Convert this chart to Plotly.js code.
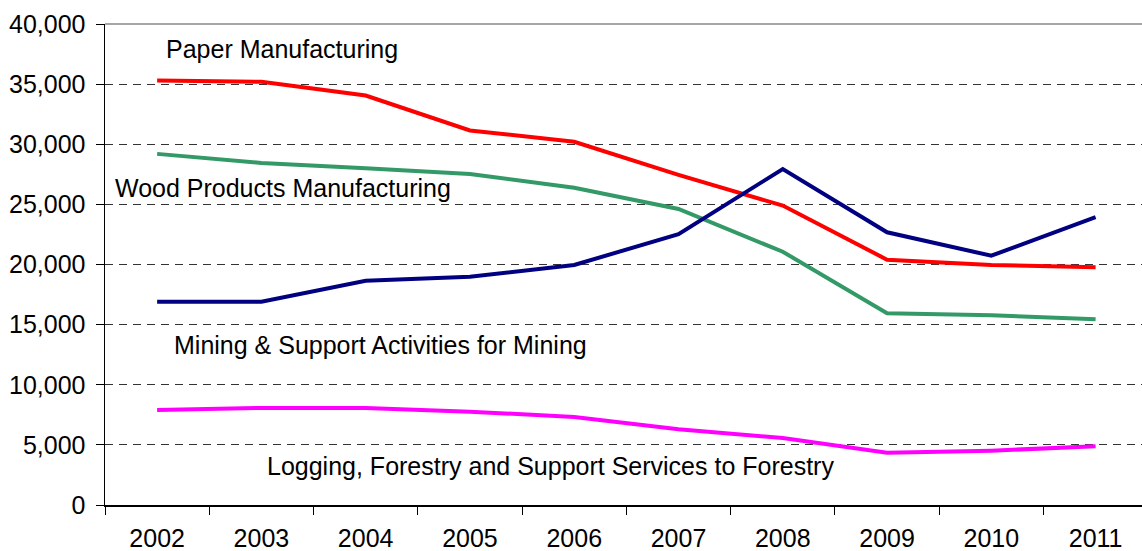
<!DOCTYPE html>
<html>
<head>
<meta charset="utf-8">
<script src="https://cdn.plot.ly/plotly-3.0.1.min.js"></script>
<style>html,body{margin:0;padding:0;background:#fff;}#chart{width:1142px;height:551px;}</style>
</head>
<body>
<div id="chart"></div>
<script>
const years = ['2002','2003','2004','2005','2006','2007','2008','2009','2010','2011'];
const paper = [35300, 35200, 34050, 31150, 30200, 27450, 24900, 20400, 19950, 19780];
const wood = [29200, 28450, 28000, 27520, 26380, 24620, 21060, 15940, 15780, 15440];
const mining = [16900, 16900, 18650, 18980, 19960, 22520, 27940, 22680, 20730, 23930];
const logging = [7900, 8070, 8070, 7760, 7320, 6300, 5570, 4350, 4520, 4880];
const seriesNames = ['Paper Manufacturing', 'Wood Products Manufacturing', 'Mining & Support Activities for Mining', 'Logging, Forestry and Support Services to Forestry'];
const yTicks = [0, 5000, 10000, 15000, 20000, 25000, 30000, 35000, 40000];

const W = 1142, H = 551;
const M = {l: 105, r: 0, t: 24, b: 46};
const px = x => (x - M.l) / (W - M.l - M.r);
const py = y => 1 - (y - M.t) / (H - M.t - M.b);

const colors = ['#FF0000', '#339966', '#000080', '#FF00FF'];
const data = [paper, wood, mining, logging].map((v, i) => ({
  type: 'scatter', mode: 'lines', x: years, y: v, name: seriesNames[i],
  line: {color: colors[i], width: 4}, hoverinfo: 'x+y'
}));

const labelPos = [[282, 49], [283, 188], [380, 345], [550, 466]];
const annotations = seriesNames.map((t, i) => ({
  text: t, xref: 'paper', yref: 'paper', x: px(labelPos[i][0]), y: py(labelPos[i][1]),
  xanchor: 'center', yanchor: 'middle', showarrow: false,
  font: {family: 'Liberation Sans, Arial, sans-serif', size: 25, color: '#000'}
}));

const layout = {
  width: W, height: H, margin: M, showlegend: false,
  paper_bgcolor: '#fff', plot_bgcolor: '#fff',
  font: {family: 'Liberation Sans, Arial, sans-serif', size: 25, color: '#000'},
  xaxis: {
    type: 'category', range: [-0.5, 9.445], tickson: 'boundaries',
    ticks: 'outside', ticklen: 8, tickcolor: '#000', tickwidth: 1,
    showline: true, linecolor: '#000', linewidth: 1.5, showgrid: false,
    zeroline: false, tickfont: {size: 25}, ticklabelstandoff: 10
  },
  yaxis: {
    range: [0, 40000], tickvals: yTicks, tickformat: ',d',
    ticks: 'outside', ticklen: 8, tickcolor: '#000', tickwidth: 1,
    showline: true, linecolor: '#000', linewidth: 1.5,
    showgrid: true, gridcolor: '#333', gridwidth: 1, griddash: '8px,6px',
    zeroline: false, tickfont: {size: 25}, ticklabelstandoff: 5
  },
  shapes: [{type: 'line', xref: 'paper', yref: 'paper', x0: 0, x1: 1, y0: 1, y1: 1, line: {color: '#888', width: 1.5}}],
  annotations: annotations
};

Plotly.newPlot('chart', data, layout, {displayModeBar: false, staticPlot: true});
</script>
</body>
</html>
